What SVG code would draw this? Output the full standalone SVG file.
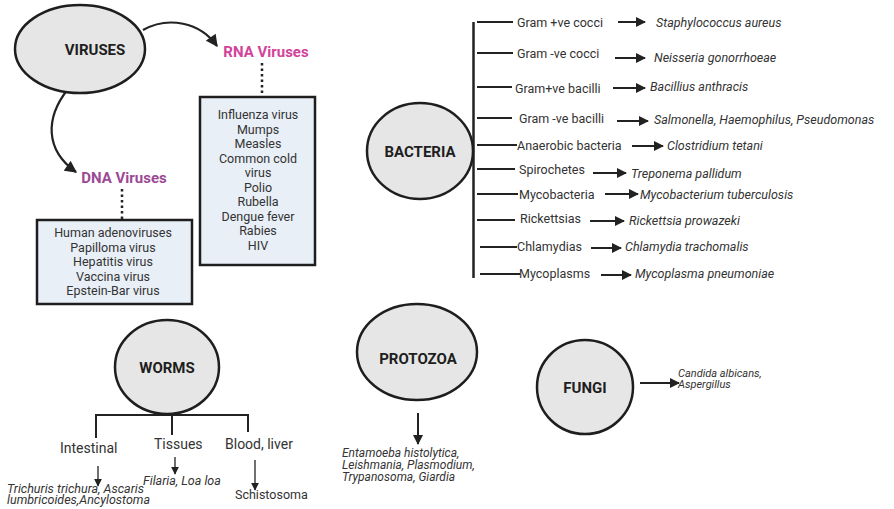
<svg xmlns="http://www.w3.org/2000/svg" width="894" height="509" viewBox="0 0 894 509">
  <style>
    .node { fill: #e6e6e6; stroke: #1e1e1e; stroke-width: 2.5; }
    .box { fill: #e9eff7; stroke: #1e1e1e; stroke-width: 2.5; }
    .title { font-family: Roboto, "Liberation Sans", sans-serif; font-weight: bold; font-size: 15px; fill: #1e1e1e; text-anchor: middle; }
    .sub { font-family: Roboto, "Liberation Sans", sans-serif; font-weight: bold; font-size: 15px; text-anchor: middle; }
    .lst { font-family: Roboto, "Liberation Sans", sans-serif; font-size: 12.5px; fill: #333; text-anchor: middle; }
    .lbl { font-family: Roboto, "Liberation Sans", sans-serif; font-size: 12.5px; fill: #333; }
    .sp { font-family: Roboto, "Liberation Sans", sans-serif; font-style: italic; font-size: 12.5px; fill: #333; }
    .pz { font-family: Roboto, "Liberation Sans", sans-serif; font-style: italic; font-size: 12px; fill: #333; }
    .sm { font-family: Roboto, "Liberation Sans", sans-serif; font-style: italic; font-size: 11px; fill: #333; }
    .wl { font-family: Roboto, "Liberation Sans", sans-serif; font-size: 14px; fill: #333; }
    .ln { fill: none; stroke: #222; stroke-width: 2; }
    .dot { fill: none; stroke: #222; stroke-width: 2.5; stroke-dasharray: 2.5 3; }
    .arr { fill: none; stroke: #222; stroke-width: 2; marker-end: url(#head); }
    .arrs { fill: none; stroke: #222; stroke-width: 1.3; marker-end: url(#headS); }
  </style>
  <defs>
    <marker id="head" viewBox="0 0 10 10" refX="9" refY="5" markerWidth="11" markerHeight="10" markerUnits="userSpaceOnUse" orient="auto">
      <path d="M0,0 L10,5 L0,10 Z" fill="#222"/>
    </marker>
    <marker id="headS" viewBox="0 0 10 10" refX="9" refY="5" markerWidth="8" markerHeight="8" markerUnits="userSpaceOnUse" orient="auto">
      <path d="M0,0 L10,5 L0,10 Z" fill="#222"/>
    </marker>
    <marker id="headL" viewBox="0 0 10 10" refX="9" refY="5" markerWidth="13" markerHeight="12" markerUnits="userSpaceOnUse" orient="auto">
      <path d="M0,0 L10,5 L0,10 Z" fill="#222"/>
    </marker>
  </defs>

  <rect width="894" height="509" fill="#ffffff"/>

  <!-- connectors -->
  <g id="connectors">
    <!-- viruses -->
    <path d="M143,30 C168,16 200,22 217,46" fill="none" stroke="#222" stroke-width="2.2" marker-end="url(#headL)"/>
    <path d="M68,89 C45,118 45,150 76,172" fill="none" stroke="#222" stroke-width="2.2" marker-end="url(#headL)"/>
    <line class="dot" x1="262" y1="63" x2="262" y2="97"/>
    <line class="dot" x1="122" y1="189" x2="122" y2="219"/>

    <!-- bacteria trunk and branches -->
    <line x1="473.5" y1="22" x2="473.5" y2="278" stroke="#222" stroke-width="2.5"/>
    <line class="ln" x1="477" y1="22" x2="513" y2="22"/>
    <line class="ln" x1="477" y1="53" x2="513" y2="53"/>
    <line class="ln" x1="477" y1="87" x2="512" y2="87"/>
    <line class="ln" x1="477" y1="118" x2="512" y2="118"/>
    <line class="ln" x1="477" y1="145" x2="517" y2="145"/>
    <line class="ln" x1="477" y1="169" x2="515" y2="169"/>
    <line class="ln" x1="477" y1="194" x2="518" y2="194"/>
    <line class="ln" x1="477" y1="220" x2="515" y2="220"/>
    <line class="ln" x1="480" y1="247" x2="517" y2="247"/>
    <line class="ln" x1="480" y1="274" x2="520" y2="274"/>

    <line class="arr" x1="618" y1="22" x2="645" y2="22"/>
    <line class="arr" x1="615" y1="58" x2="645" y2="58"/>
    <line class="arr" x1="613" y1="88" x2="645" y2="88"/>
    <line class="arr" x1="617" y1="121" x2="648" y2="121"/>
    <line class="arr" x1="632" y1="146" x2="663" y2="146"/>
    <line class="arr" x1="593" y1="173" x2="626" y2="173"/>
    <line class="arr" x1="605" y1="194" x2="638" y2="194"/>
    <line class="arr" x1="590" y1="221" x2="624" y2="221"/>
    <line class="arr" x1="591" y1="248" x2="621" y2="248"/>
    <line class="arr" x1="601" y1="275" x2="631" y2="275"/>

    <!-- worms bracket -->
    <polyline class="ln" points="96,438 96,415 248,415 248,432"/>
    <line class="ln" x1="172" y1="413" x2="172" y2="435"/>
    <line class="arrs" x1="98" y1="466" x2="98" y2="486"/>
    <line class="arrs" x1="175" y1="457" x2="175" y2="474"/>
    <line class="arrs" x1="255" y1="460" x2="255" y2="490"/>

    <!-- protozoa and fungi -->
    <line class="arr" x1="418" y1="413" x2="418" y2="444"/>
    <line class="arr" x1="640" y1="383" x2="679" y2="383"/>
  </g>

  <!-- VIRUSES -->
  <g id="viruses">
    <ellipse class="node" cx="80" cy="49" rx="65" ry="44"/>
    <text class="title" x="95" y="55" font-size="16">VIRUSES</text>
  </g>

  <g id="rna-viruses">
    <text class="sub" x="266" y="57" fill="#d2439a">RNA Viruses</text>
    <rect class="box" x="200" y="97" width="115" height="168"/>
    <text class="lst" x="258" y="119">Influenza virus<tspan x="258" dy="14.5">Mumps</tspan><tspan x="258" dy="14.5">Measles</tspan><tspan x="258" dy="14.5">Common cold</tspan><tspan x="258" dy="14.5">virus</tspan><tspan x="258" dy="14.5">Polio</tspan><tspan x="258" dy="14.5">Rubella</tspan><tspan x="258" dy="14.5">Dengue fever</tspan><tspan x="258" dy="14.5">Rabies</tspan><tspan x="258" dy="14.5">HIV</tspan></text>
  </g>

  <g id="dna-viruses">
    <text class="sub" x="124" y="183" fill="#9c4a94">DNA Viruses</text>
    <rect class="box" x="37" y="220" width="155" height="84"/>
    <text class="lst" x="113" y="237">Human adenoviruses<tspan x="113" dy="14.5">Papilloma virus</tspan><tspan x="113" dy="14.5">Hepatitis virus</tspan><tspan x="113" dy="14.5">Vaccina virus</tspan><tspan x="113" dy="14.5">Epstein-Bar virus</tspan></text>
  </g>

  <!-- BACTERIA -->
  <g id="bacteria">
    <ellipse class="node" cx="420" cy="151" rx="53" ry="48"/>
    <text class="title" x="420" y="157" font-size="16">BACTERIA</text>
  </g>

  <g id="bacteria-groups">
    <text class="lbl" x="517" y="27">Gram +ve cocci</text>
    <text class="lbl" x="517" y="58">Gram -ve cocci</text>
    <text class="lbl" x="515" y="93">Gram+ve bacilli</text>
    <text class="lbl" x="519" y="123">Gram -ve bacilli</text>
    <text class="lbl" x="517" y="150">Anaerobic bacteria</text>
    <text class="lbl" x="519" y="174">Spirochetes</text>
    <text class="lbl" x="519" y="199">Mycobacteria</text>
    <text class="lbl" x="520" y="223">Rickettsias</text>
    <text class="lbl" x="517" y="251">Chlamydias</text>
    <text class="lbl" x="519" y="278">Mycoplasms</text>
  </g>

  <g id="bacteria-species">
    <text class="sp" x="656" y="27">Staphylococcus aureus</text>
    <text class="sp" x="654" y="62">Neisseria gonorrhoeae</text>
    <text class="sp" x="650" y="91">Bacillius anthracis</text>
    <text class="sp" x="654" y="124">Salmonella, Haemophilus, Pseudomonas</text>
    <text class="sp" x="667" y="150">Clostridium tetani</text>
    <text class="sp" x="631" y="178">Treponema pallidum</text>
    <text class="sp" x="640" y="199">Mycobacterium tuberculosis</text>
    <text class="sp" x="629" y="225">Rickettsia prowazeki</text>
    <text class="sp" x="625" y="251">Chlamydia trachomalis</text>
    <text class="sp" x="635" y="278">Mycoplasma pneumoniae</text>
  </g>

  <!-- WORMS -->
  <g id="worms">
    <ellipse class="node" cx="167" cy="367" rx="52" ry="47"/>
    <text class="title" x="167" y="373" font-size="15.5">WORMS</text>
  </g>
  <g id="worm-groups">
    <text class="wl" x="60" y="453">Intestinal</text>
    <text class="wl" x="154" y="449">Tissues</text>
    <text class="wl" x="225" y="449">Blood, liver</text>
    <text class="sp" x="7" y="493">Trichuris trichura, Ascaris<tspan x="7" dy="11">lumbricoides,Ancylostoma</tspan></text>
    <text class="sp" x="143" y="485">Filaria, Loa loa</text>
    <text class="lbl" x="235" y="499">Schistosoma</text>
  </g>

  <!-- PROTOZOA -->
  <g id="protozoa">
    <ellipse class="node" cx="417" cy="352" rx="60" ry="48"/>
    <text class="title" x="418" y="364" font-size="16">PROTOZOA</text>
  </g>
  <g id="protozoa-species">
    <text class="pz" x="342" y="457">Entamoeba histolytica,<tspan x="342" dy="12">Leishmania, Plasmodium,</tspan><tspan x="342" dy="12">Trypanosoma, Giardia</tspan></text>
  </g>

  <!-- FUNGI -->
  <g id="fungi">
    <ellipse class="node" cx="585" cy="387" rx="48" ry="47"/>
    <text class="title" x="585" y="393" font-size="16">FUNGI</text>
  </g>
  <g id="fungi-species">
    <text class="sm" x="678" y="377">Candida albicans,<tspan x="678" dy="11">Aspergillus</tspan></text>
  </g>
</svg>
